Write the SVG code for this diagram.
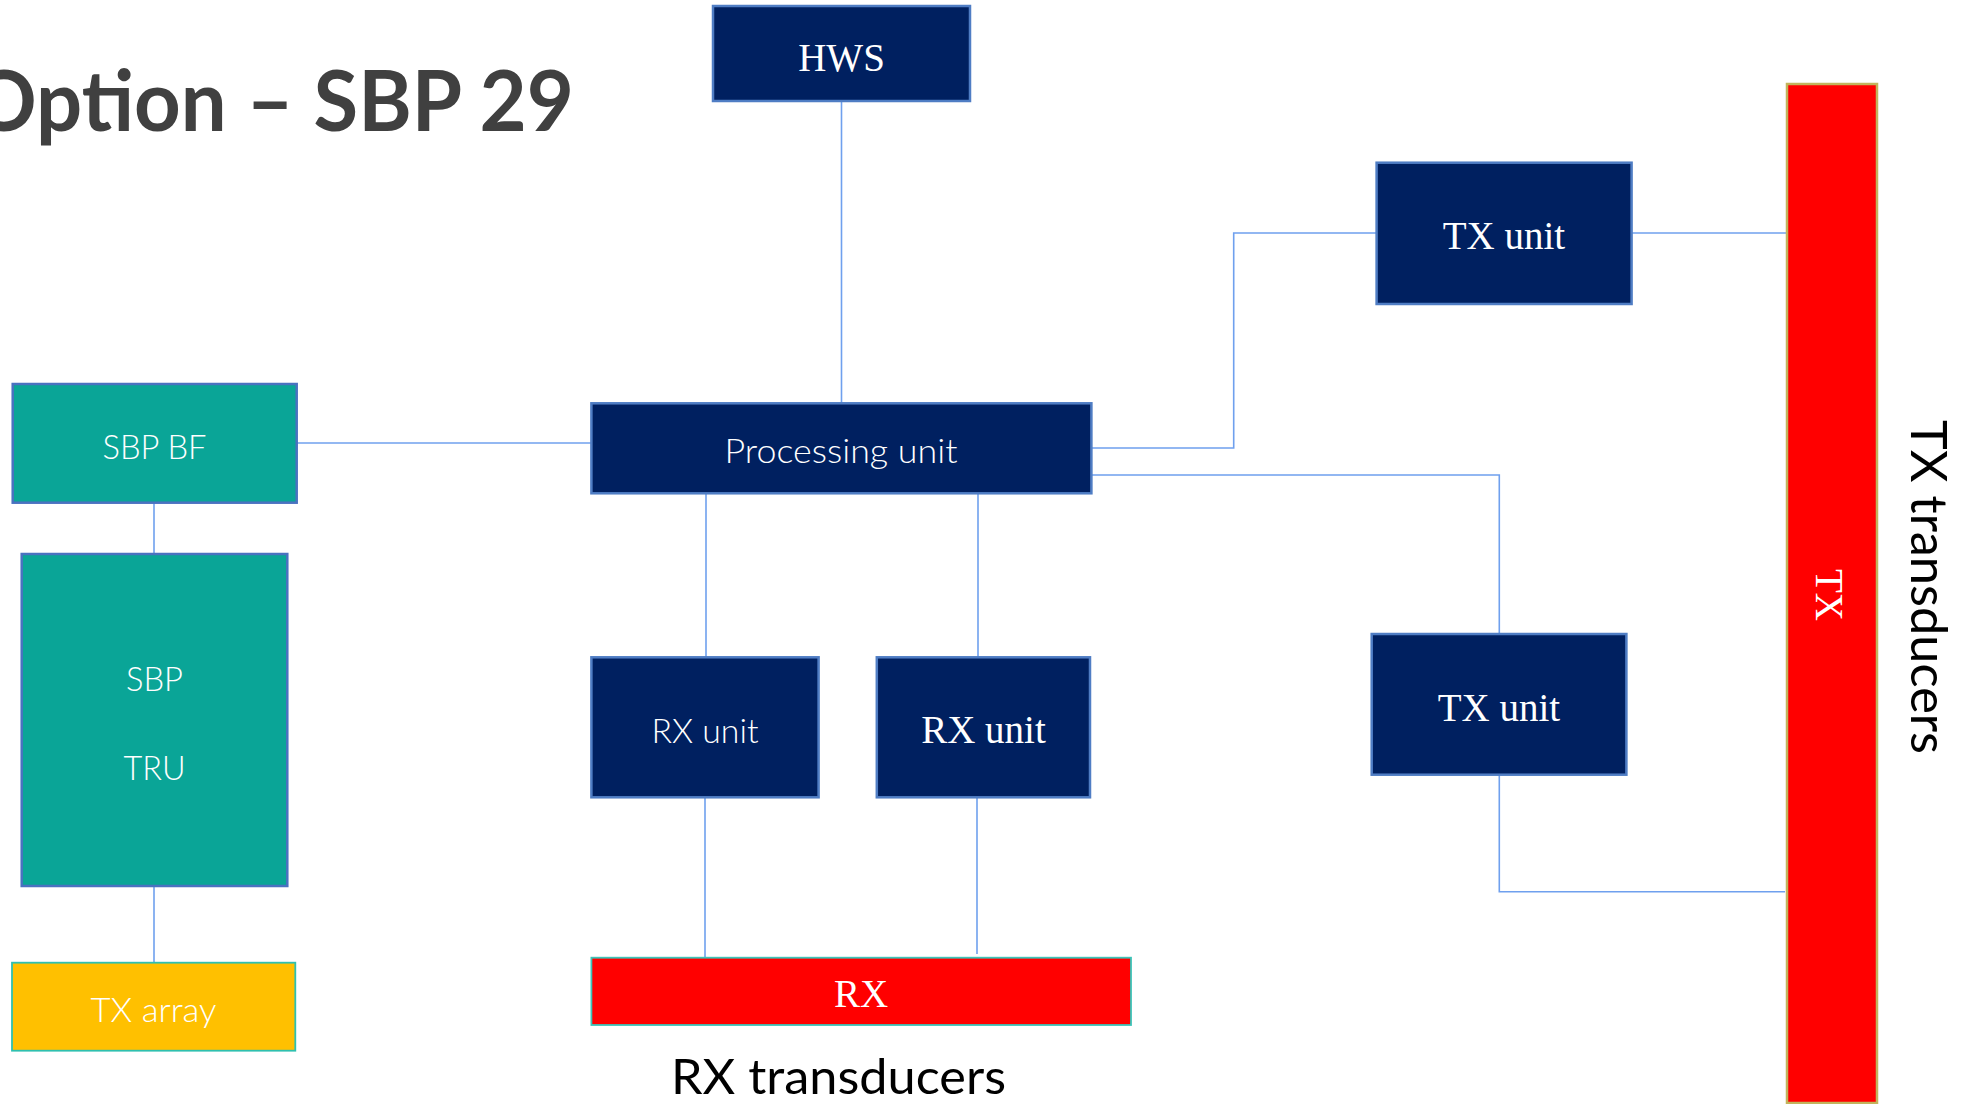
<svg xmlns="http://www.w3.org/2000/svg" width="1977" height="1104" viewBox="0 0 1977 1104">
<style>
.navy{fill:#002060;stroke:#4f7dc4;stroke-width:2.5}
.teal{fill:#0aa597;stroke:#4a72c0;stroke-width:2.5}
.amber{fill:#ffc000;stroke:#2ec0b0;stroke-width:1.8}
.rxbar{fill:#ff0000;stroke:#3cc4b8;stroke-width:1.8}
.txbar{fill:#ff0000;stroke:#c2b45c;stroke-width:2.5}
.serif{font-family:"Liberation Serif","Times New Roman",serif;font-size:39px;fill:#ffffff;text-anchor:middle}
.light{font-family:Lato,"Open Sans",sans-serif;font-weight:300;font-size:34px;fill:#ffffff;text-anchor:middle}
.conn path{fill:none;stroke:#6fa0ee;stroke-width:1.6}
</style>
<rect width="1977" height="1104" fill="#ffffff"/>
<text id="title" x="-29" y="131" font-family="Lato,'Open Sans',sans-serif" font-weight="700" font-size="84" fill="#404040" textLength="603" lengthAdjust="spacingAndGlyphs">Option – SBP 29</text>
<g class="conn" id="connectors">
<path d="M841.5 101 V403"/>
<path d="M296.6 443 H591"/>
<path d="M154 503 V554"/>
<path d="M154 886 V963"/>
<path d="M1091 448 H1233.7 V233 H1376.6"/>
<path d="M1631.7 233 H1787"/>
<path d="M1091 475 H1499.3 V634"/>
<path d="M1499.3 775 V891.7 H1785"/>
<path d="M706 493 V657"/>
<path d="M978 493 V657"/>
<path d="M705 797 V958"/>
<path d="M977 797 V954"/>
</g>
<g id="hws"><rect class="navy" x="713" y="6" width="257" height="95"/><text class="serif" x="841.5" y="71">HWS</text></g>
<g id="tx-unit-1"><rect class="navy" x="1376.6" y="162.7" width="255" height="141.3"/><text class="serif" x="1504" y="249">TX unit</text></g>
<g id="tx-unit-2"><rect class="navy" x="1371.7" y="634" width="254.7" height="140.7"/><text class="serif" x="1499" y="721">TX unit</text></g>
<g id="processing-unit"><rect class="navy" x="591.4" y="403.3" width="500" height="90"/><text class="light" x="841" y="463" textLength="233" lengthAdjust="spacingAndGlyphs">Processing unit</text></g>
<g id="sbp-bf"><rect class="teal" x="12.7" y="384" width="284" height="118.7"/><text class="light" x="154.5" y="459" textLength="104" lengthAdjust="spacingAndGlyphs">SBP BF</text></g>
<g id="sbp-tru"><rect class="teal" x="21.7" y="554" width="265.6" height="332"/><text class="light" x="154.5" y="691" textLength="57" lengthAdjust="spacingAndGlyphs">SBP</text><text class="light" x="154.5" y="780" textLength="62" lengthAdjust="spacingAndGlyphs">TRU</text></g>
<g id="tx-array"><rect class="amber" x="12" y="962.7" width="283.3" height="88"/><text class="light" x="153.5" y="1022" textLength="126" lengthAdjust="spacingAndGlyphs">TX array</text></g>
<g id="rx-unit-1"><rect class="navy" x="591.4" y="657.3" width="227.2" height="140"/><text class="light" x="705" y="743" textLength="107" lengthAdjust="spacingAndGlyphs">RX unit</text></g>
<g id="rx-unit-2"><rect class="navy" x="876.8" y="657.3" width="213.2" height="140"/><text class="serif" x="983.5" y="743">RX unit</text></g>
<g id="rx-transducers"><rect class="rxbar" x="591.4" y="957.7" width="539.6" height="67.3"/><text class="serif" x="861" y="1007">RX</text>
<text x="671" y="1094" font-family="Lato,'Open Sans',sans-serif" font-size="48" fill="#000000" textLength="335" lengthAdjust="spacingAndGlyphs">RX transducers</text></g>
<g id="tx-transducers"><rect class="txbar" x="1787" y="84" width="90" height="1019"/><text class="serif" transform="translate(1816,595) rotate(90)">TX</text>
<text transform="translate(1911,420) rotate(90)" font-family="Lato,'Open Sans',sans-serif" font-size="50" fill="#000000" textLength="334" lengthAdjust="spacingAndGlyphs">TX transducers</text></g>
</svg>
